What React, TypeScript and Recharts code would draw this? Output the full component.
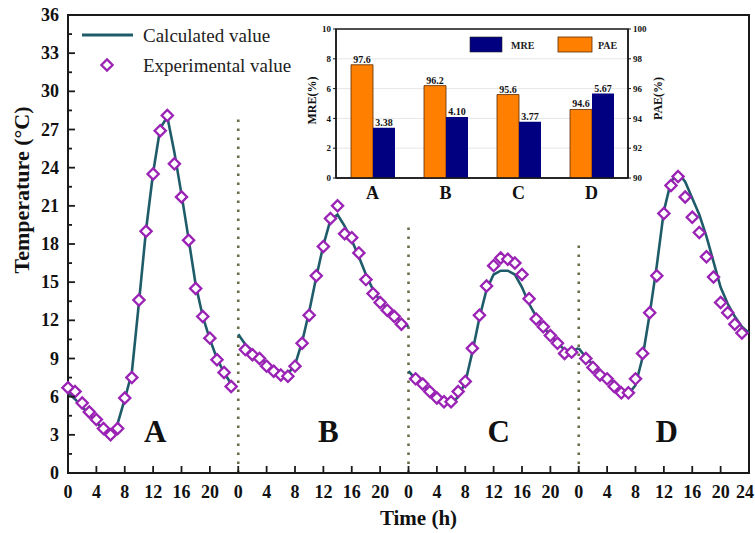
import React from 'react';
import {
  ComposedChart, Line, Scatter, XAxis, YAxis, ReferenceLine, ReferenceArea, ReferenceDot,
  Legend, BarChart, Bar, CartesianGrid, LabelList,
} from 'recharts';

const FONT = '"Liberation Serif", "Times New Roman", serif';

// ---- main chart data (hourly, one day per case) ----
const panels = ['A', 'B', 'C', 'D'];
const calcA = [6.3, 5.8, 5.2, 4.6, 4.0, 3.4, 2.9, 3.9, 5.8, 7.9, 13.4, 19.1, 23.6, 27.1, 28.0, 25.2, 21.9, 18.4, 14.8, 12.3, 10.5, 9.0, 7.9, 7.0];
const calcB = [10.9, 10.1, 9.6, 9.1, 8.6, 8.2, 7.9, 7.8, 8.5, 10.3, 12.7, 15.4, 17.9, 19.9, 20.3, 19.4, 18.3, 17.0, 15.6, 14.4, 13.5, 12.9, 12.4, 11.9, 11.5];
const calcC = [8.0, 7.4, 6.9, 6.3, 5.8, 5.5, 5.4, 6.0, 7.1, 9.5, 12.2, 14.4, 15.6, 15.9, 15.9, 15.6, 14.6, 13.3, 12.3, 11.5, 10.8, 10.2, 9.7, 9.6, 9.8];
const calcD = [9.8, 9.1, 8.5, 8.0, 7.6, 7.1, 6.6, 6.2, 6.9, 9.1, 12.5, 16.3, 20.6, 22.9, 23.6, 22.9, 21.6, 20.3, 18.6, 16.6, 14.6, 13.3, 12.3, 11.5, 11.0];

const expA = [6.7, 6.4, 5.5, 4.8, 4.2, 3.5, 3.0, 3.5, 5.9, 7.5, 13.6, 19.0, 23.5, 26.9, 28.1, 24.3, 21.7, 18.3, 14.5, 12.3, 10.6, 8.9, 7.9, 6.8];
const expB = [9.7, 9.3, 9.0, 8.4, 8.0, 7.7, 7.6, 8.4, 10.2, 12.4, 15.5, 17.8, 20.0, 21.0, 18.8, 18.5, 17.3, 15.2, 14.1, 13.4, 12.8, 12.3, 11.7];
const expC = [7.4, 7.0, 6.4, 5.9, 5.6, 5.6, 6.4, 7.2, 9.8, 12.4, 14.7, 16.3, 16.9, 16.8, 16.5, 15.6, 13.7, 12.1, 11.5, 10.8, 10.2, 9.4, 9.5];
const expD = [9.0, 8.3, 7.7, 7.4, 6.8, 6.3, 6.3, 7.4, 9.4, 12.6, 15.5, 20.4, 22.6, 23.3, 21.7, 20.1, 18.9, 17.0, 15.4, 13.4, 12.6, 11.7, 11.0];
const expFirstHour = [0, 1, 1, 1];

const yTicks = [0, 1.5, 3, 4.5, 6, 7.5, 9, 10.5, 12, 13.5, 15, 16.5, 18, 19.5, 21, 22.5, 24, 25.5, 27, 28.5, 30, 31.5, 33, 34.5, 36];
const xTicks = [0, 4, 8, 12, 16, 20, 24, 28, 32, 36, 40, 44, 48, 52, 56, 60, 64, 68, 72, 76, 80, 84, 88, 92, 96];
const separatorTops = [28, 19.5, 18.3];
const panelLabelHour = [12.3, 12.7, 12.7, 12.4];

// ---- inset data ----
const insetCats = ['A', 'B', 'C', 'D'];
const mreValues = [3.38, 4.10, 3.77, 5.67];
const paeValues = [97.6, 96.2, 95.6, 94.6];
const mreLabels = ['3.38', '4.10', '3.77', '5.67'];
const paeLabels = ['97.6', '96.2', '95.6', '94.6'];
const mreTicks = [0, 2, 4, 6, 8, 10];
const paeTicks = [90, 92, 94, 96, 98, 100];

// ---- build tables ----
const calcSeries = [calcA, calcB, calcC, calcD];
const calcKeys = ['cA', 'cB', 'cC', 'cD'];
const rowMap: Record<number, any> = {};
calcSeries.forEach((arr, p) => {
  arr.forEach((v, i) => {
    const x = p * 24 + i;
    if (!rowMap[x]) rowMap[x] = { x };
    rowMap[x][calcKeys[p]] = v;
  });
});
const lineData = Object.keys(rowMap).map(Number).sort((a, b) => a - b).map((k) => rowMap[k]);

const expSeries = [expA, expB, expC, expD];
const expData = expSeries.flatMap((arr, p) => arr.map((v, i) => ({ x: p * 24 + expFirstHour[p] + i, y: v })));

const insetData = insetCats.map((c, i) => ({
  cat: c, mre: mreValues[i], pae: paeValues[i], mreLabel: mreLabels[i], paeLabel: paeLabels[i],
}));

const LINE_COLOR = '#1F5C6A';
const MARK_COLOR = '#9A22B4';
const AXIS_COLOR = '#1a1a1a';
const SEP_COLOR = '#6c6c48';
const textStyle = { fontFamily: FONT };

const Diamond = (props: any) => {
  const { cx, cy } = props;
  if (cx == null || cy == null) return null;
  const r = 5.6;
  return (
    <polygon
      points={`${cx},${cy - r} ${cx + r},${cy} ${cx},${cy + r} ${cx - r},${cy}`}
      fill="#ffffff" stroke={MARK_COLOR} strokeWidth={2.3}
    />
  );
};

const YTick = (props: any) => {
  const { x, y, payload } = props;
  const v = payload.value;
  const major = Math.abs(v % 3) < 1e-6;
  return (
    <g>
      <line x1={x} x2={x + (major ? 7 : 4)} y1={y} y2={y} stroke={AXIS_COLOR} strokeWidth={1.8} />
      {major && (
        <text x={x - 9} y={y} textAnchor="end" dominantBaseline="central" style={textStyle}
          fontFamily={FONT} fontWeight="bold" fontSize={18} fill="#111">{v}</text>
      )}
    </g>
  );
};

const XTick = (props: any) => {
  const { x, y, payload } = props;
  const v = payload.value;
  const last = v === 96;
  const label = last ? '24' : String(v % 24);
  return (
    <g>
      <line x1={x} x2={x} y1={y} y2={y - 7} stroke={AXIS_COLOR} strokeWidth={1.8} />
      <text x={last ? x + 5 : x} y={y + 19} textAnchor={last ? 'end' : 'middle'} dominantBaseline="central"
        style={textStyle} fontFamily={FONT} fontWeight="bold" fontSize={18} fill="#111">{label}</text>
    </g>
  );
};

const yTitle = (props: any) => {
  const vb = props.viewBox || { x: 0, y: 15 };
  const cx = vb.x + 21;
  const cy = vb.y + 175;
  return (
    <text x={cx} y={cy} transform={`rotate(-90 ${cx} ${cy})`} textAnchor="middle" dominantBaseline="central"
      style={textStyle} fontFamily={FONT} fontWeight="bold" fontSize={22} fill="#111">Temperature (°C)</text>
  );
};

const xTitle = (props: any) => {
  const vb = props.viewBox || { x: 68, y: 473, width: 681 };
  const cx = vb.x + vb.width / 2 + 10;
  const cy = vb.y + 45;
  return (
    <text x={cx} y={cy} textAnchor="middle" dominantBaseline="central"
      style={textStyle} fontFamily={FONT} fontWeight="bold" fontSize={21} fill="#111">Time (h)</text>
  );
};

const MainLegend = () => (
  <svg width={240} height={64} style={textStyle}>
    <line x1={10} x2={61} y1={17} y2={17} stroke={LINE_COLOR} strokeWidth={3} />
    <text x={71} y={17} dominantBaseline="central" style={textStyle} fontFamily={FONT} fontSize={19} fill="#222">Calculated value</text>
    <Diamond cx={35} cy={47} />
    <text x={71} y={47} dominantBaseline="central" style={textStyle} fontFamily={FONT} fontSize={19} fill="#222">Experimental value</text>
  </svg>
);

const InsetLegend = () => (
  <svg width={160} height={26} style={textStyle}>
    <rect x={5} y={5} width={32} height={15} fill="#000080" stroke="#222" strokeWidth={0.6} />
    <text x={46} y={13} dominantBaseline="central" style={textStyle} fontFamily={FONT} fontWeight="bold" fontSize={10} fill="#222">MRE</text>
    <rect x={93} y={5} width={34} height={15} fill="#FF8000" stroke="#5a2a00" strokeWidth={0.8} />
    <text x={133} y={13} dominantBaseline="central" style={textStyle} fontFamily={FONT} fontWeight="bold" fontSize={10} fill="#222">PAE</text>
  </svg>
);

const mreTitle = (props: any) => {
  const vb = props.viewBox || { x: 0, y: 9, height: 149 };
  const cx = vb.x + 21.5;
  const cy = vb.y + vb.height / 2 - 3;
  return (
    <text x={cx} y={cy} transform={`rotate(-90 ${cx} ${cy})`} textAnchor="middle" dominantBaseline="central"
      style={textStyle} fontFamily={FONT} fontWeight="bold" fontSize={12} fill="#111">MRE(%)</text>
  );
};

const paeTitle = (props: any) => {
  const vb = props.viewBox || { x: 338, y: 9, height: 149 };
  const cx = vb.x + 30;
  const cy = vb.y + vb.height / 2 - 5;
  return (
    <text x={cx} y={cy} transform={`rotate(-90 ${cx} ${cy})`} textAnchor="middle" dominantBaseline="central"
      style={textStyle} fontFamily={FONT} fontWeight="bold" fontSize={12} fill="#111">PAE(%)</text>
  );
};

const smallTick = { fontSize: 9, fontWeight: 'bold', fill: '#111', fontFamily: FONT };

export default function App() {
  return (
    <div style={{ position: 'absolute', left: 0, top: 0, width: 755, height: 533, background: '#fff', fontFamily: FONT }}>
      <ComposedChart width={755} height={533} data={lineData} margin={{ top: 15, right: 6, left: 0, bottom: 0 }}>
        <XAxis dataKey="x" type="number" domain={[0, 96]} ticks={xTicks} interval={0} height={60}
          tickSize={0} tickMargin={0} tickLine={false} tick={<XTick />}
          axisLine={{ stroke: AXIS_COLOR, strokeWidth: 2 }} label={xTitle} />
        <YAxis type="number" domain={[0, 36]} ticks={yTicks} interval={0} width={68}
          tickSize={0} tickMargin={0} tickLine={false} tick={<YTick />}
          axisLine={{ stroke: AXIS_COLOR, strokeWidth: 2 }} label={yTitle} />
        <ReferenceArea x1={0} x2={96} y1={0} y2={36} fill="none" fillOpacity={0} stroke={AXIS_COLOR} strokeWidth={2} />
        {separatorTops.map((top, i) => (
          <ReferenceLine key={`sep${i}`} segment={[{ x: (i + 1) * 24, y: 0 }, { x: (i + 1) * 24, y: top }]}
            stroke={SEP_COLOR} strokeWidth={2.6} strokeDasharray="2.6 6.4" />
        ))}
        {calcKeys.map((k) => (
          <Line key={k} type="linear" dataKey={k} stroke={LINE_COLOR} strokeWidth={2.6} dot={false}
            activeDot={false} isAnimationActive={false} connectNulls={false} legendType="none" />
        ))}
        <Scatter data={expData} dataKey="y" shape={<Diamond />} isAnimationActive={false} legendType="none" />
        {panels.map((p, i) => (
          <ReferenceDot key={p} x={i * 24 + panelLabelHour[i]} y={3.3} r={0} fill="none" stroke="none"
            label={{ value: p, position: 'center', fontSize: 31, fontWeight: 'bold', fontFamily: FONT, fill: '#111' }} />
        ))}
        <Legend layout="horizontal" verticalAlign="middle" align="center" content={<MainLegend />}
          wrapperStyle={{ position: 'absolute', top: 18, left: 72, width: 240, height: 64 }} />
      </ComposedChart>

      <div style={{ position: 'absolute', left: 290, top: 20 }}>
        <BarChart width={380} height={183} data={insetData} margin={{ top: 9, right: 0, left: 0, bottom: 0 }}
          barGap={0} barCategoryGap="19%">
          <CartesianGrid yAxisId="l" vertical={false} stroke="#e6e6e6" />
          <XAxis dataKey="cat" height={25} tickLine={false} tickSize={0} tickMargin={8}
            tick={{ fontSize: 18, fontWeight: 'bold', fill: '#111', fontFamily: FONT }}
            axisLine={{ stroke: AXIS_COLOR, strokeWidth: 1.5 }} />
          <YAxis yAxisId="l" type="number" domain={[0, 10]} ticks={mreTicks} width={46} tickSize={3}
            tick={smallTick} axisLine={{ stroke: AXIS_COLOR, strokeWidth: 1.5 }} tickLine={{ stroke: AXIS_COLOR }}
            label={mreTitle} />
          <YAxis yAxisId="r" orientation="right" type="number" domain={[90, 100]} ticks={paeTicks} width={42}
            tickSize={3} tick={smallTick} axisLine={{ stroke: AXIS_COLOR, strokeWidth: 1.5 }}
            tickLine={{ stroke: AXIS_COLOR }} label={paeTitle} />
          <ReferenceArea yAxisId="l" y1={0} y2={10} fill="none" fillOpacity={0} stroke={AXIS_COLOR} strokeWidth={1.5} />
          <Bar yAxisId="r" dataKey="pae" fill="#FF8000" stroke="#5a2a00" strokeWidth={0.8} barSize={22}
            isAnimationActive={false}>
            <LabelList dataKey="paeLabel" position="top" offset={2}
              style={{ fontSize: 10, fontWeight: 'bold', fill: '#111', fontFamily: FONT }} />
          </Bar>
          <Bar yAxisId="l" dataKey="mre" fill="#000080" barSize={22} isAnimationActive={false}>
            <LabelList dataKey="mreLabel" position="top" offset={2}
              style={{ fontSize: 10, fontWeight: 'bold', fill: '#111', fontFamily: FONT }} />
          </Bar>
          <Legend layout="horizontal" verticalAlign="middle" align="center" content={<InsetLegend />}
            wrapperStyle={{ position: 'absolute', top: 12, left: 175, width: 160, height: 26 }} />
        </BarChart>
      </div>
    </div>
  );
}
